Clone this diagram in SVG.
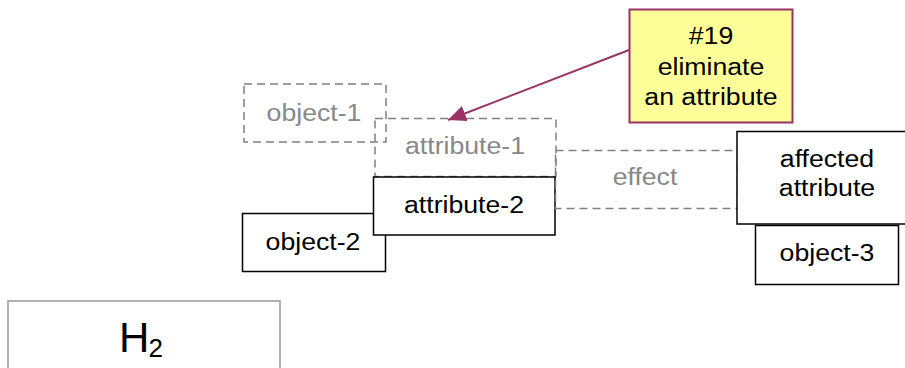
<svg xmlns="http://www.w3.org/2000/svg" width="905" height="368" viewBox="0 0 905 368">
  <style>
    .lbl { font-family: "Liberation Sans", Arial, sans-serif; font-size: 23px; fill: #000; text-anchor: middle; }
    .ghost { fill: #888888; }
    .box { fill: #fff; stroke: #000; stroke-width: 1.5; }
    .dash { fill: none; stroke: #808080; stroke-width: 1.5; stroke-dasharray: 8 5; }
    .note { fill: #ffff99; stroke: #993366; stroke-width: 2; }
    .frame { fill: #fff; stroke: #999999; stroke-width: 1.5; }
  </style>
  <defs>
    <marker id="head" markerUnits="userSpaceOnUse" markerWidth="20" markerHeight="16" refX="18" refY="8" orient="auto">
      <path d="M0,0 L18,8 L0,16 z" fill="#993366"/>
    </marker>
  </defs>

  <!-- eliminated object and attribute (dashed, unfilled) -->
  <g id="object-1">
    <rect class="dash" x="244" y="84" width="142" height="58"/>
    <text class="lbl ghost" transform="translate(314,120.5) scale(1.16,1)">object-1</text>
  </g>
  <g id="attribute-1">
    <rect class="dash" x="375" y="118.5" width="181" height="58"/>
    <text class="lbl ghost" transform="translate(465,153.5) scale(1.16,1)">attribute-1</text>
  </g>

  <!-- remaining object and attribute -->
  <g id="object-2">
    <rect class="box" x="242.5" y="213.5" width="143" height="58"/>
    <text class="lbl" transform="translate(313,249.5) scale(1.16,1)">object-2</text>
  </g>
  <g id="attribute-2">
    <rect class="box" x="373.5" y="177" width="181.5" height="58"/>
    <text class="lbl" transform="translate(464,212.5) scale(1.16,1)">attribute-2</text>
  </g>

  <g id="connectors">
    <!-- effect relation -->
    <g id="effect">
      <rect x="555.5" y="150.5" width="182" height="58" fill="#fff" class="dash"/>
      <text class="lbl ghost" transform="translate(645,184.5) scale(1.16,1)">effect</text>
    </g>
    <!-- callout pointer -->
    <line x1="629" y1="50" x2="448" y2="120" stroke="#993366" stroke-width="2" marker-end="url(#head)"/>
  </g>

  <g id="affected-attribute">
    <rect class="box" x="737" y="131.5" width="185" height="92.5"/>
    <text class="lbl" transform="translate(827,167) scale(1.16,1)">affected</text>
    <text class="lbl" transform="translate(827,195.5) scale(1.16,1)">attribute</text>
  </g>
  <g id="object-3">
    <rect class="box" x="755.5" y="225.5" width="143" height="59"/>
    <text class="lbl" transform="translate(827,260.5) scale(1.16,1)">object-3</text>
  </g>

  <g id="callout">
    <rect class="note" x="629.5" y="9.5" width="163" height="113"/>
    <text class="lbl" transform="translate(711,44) scale(1.16,1)">#19</text>
    <text class="lbl" transform="translate(711,74.5) scale(1.16,1)">eliminate</text>
    <text class="lbl" transform="translate(711,104.5) scale(1.16,1)">an attribute</text>
  </g>

  <g id="h2">
    <rect class="frame" x="8" y="301" width="272" height="80"/>
    <text font-family="Liberation Sans, Arial, sans-serif" font-size="42" fill="#000" x="119" y="352">H</text>
    <text font-family="Liberation Sans, Arial, sans-serif" font-size="26" fill="#000" x="148.5" y="356.5">2</text>
  </g>
</svg>
